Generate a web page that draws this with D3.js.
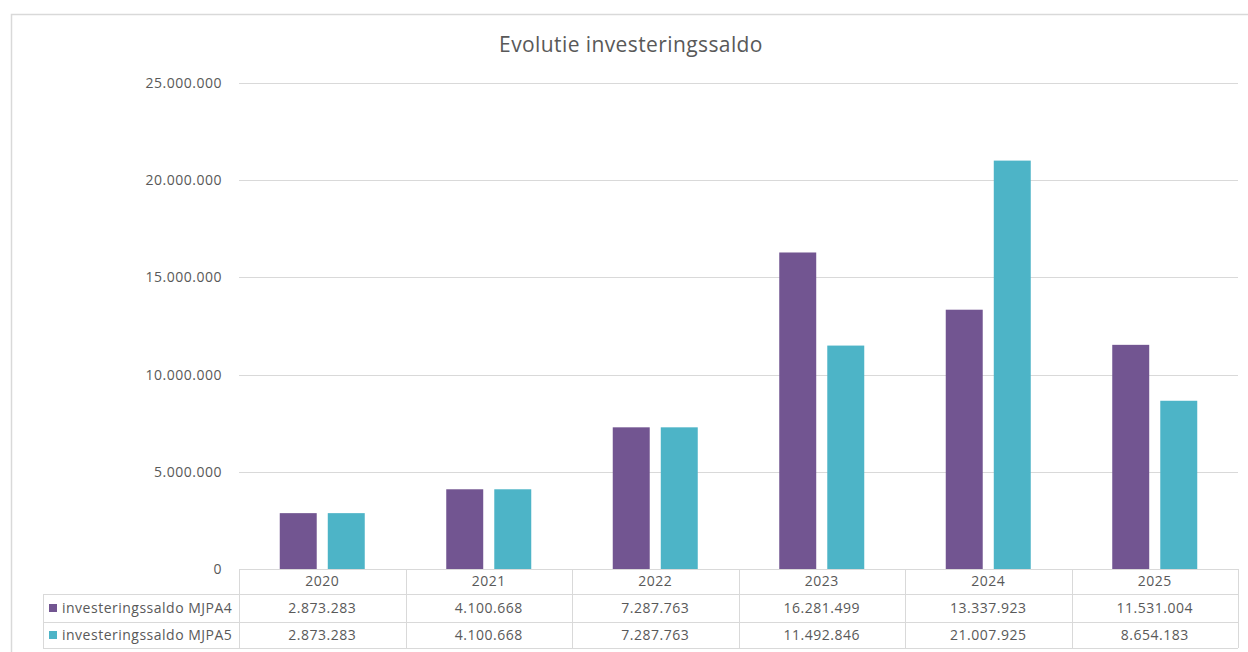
<!DOCTYPE html>
<html>
<head>
<meta charset="utf-8">
<script src="https://cdn.jsdelivr.net/npm/d3@7"></script>
<style>
  html, body { margin: 0; padding: 0; background: #fff; }
  svg { display: block; font-family: "Open Sans", "Noto Sans", sans-serif; }
</style>
</head>
<body>
<svg id="chart" width="1248" height="652"></svg>
<script>
const title = "Evolutie investeringssaldo";
const categories = ["2020", "2021", "2022", "2023", "2024", "2025"];
const seriesNames = ["investeringssaldo MJPA4", "investeringssaldo MJPA5"];
const mjpa4 = [2873283, 4100668, 7287763, 16281499, 13337923, 11531004];
const mjpa5 = [2873283, 4100668, 7287763, 11492846, 21007925, 8654183];
const seriesColors = ["#725591", "#4db4c7"];
const yTicks = [0, 5000000, 10000000, 15000000, 20000000, 25000000];

(function () {
const series = [mjpa4, mjpa5];
const svg = d3.select("#chart");
const gridColor = "#d9d9d9";
const textColor = "#595959";
const fs = 14, ls = 0.5;

const plotLeft = 239, plotRight = 1238, plotTop = 83, plotBottom = 569;
const legendLeft = 43;
const rowLines = [569, 594, 622, 648];

svg.append("rect").attr("x", 11.5).attr("y", 14.5).attr("width", 1300).attr("height", 700)
  .attr("fill", "none").attr("stroke", gridColor).attr("stroke-width", 1.5);

const fmt = v => d3.format(",")(v).replace(/,/g, ".");

const x = d3.scaleBand().domain(categories).range([plotLeft, plotRight]).paddingInner(0).paddingOuter(0);
const y = d3.scaleLinear().domain([0, 25000000]).range([plotBottom, plotTop]);
const xSub = d3.scaleBand().domain(d3.range(series.length))
  .range([0, 85]).paddingInner(0.23);
const subOffset = (x.bandwidth() - 85) / 2;

svg.append("text").attr("x", 631).attr("y", 52).attr("text-anchor", "middle")
  .attr("font-size", 21).attr("letter-spacing", 0.4).attr("fill", textColor).text(title);

svg.append("g").selectAll("line").data(yTicks.filter(d => d > 0)).join("line")
  .attr("x1", plotLeft).attr("x2", plotRight)
  .attr("y1", d => Math.round(y(d)) + 0.5).attr("y2", d => Math.round(y(d)) + 0.5)
  .attr("stroke", gridColor).attr("stroke-width", 1);

const yAxis = d3.axisLeft(y).tickValues(yTicks).tickFormat(fmt).tickSize(0).tickPadding(0);
const gy = svg.append("g").attr("transform", `translate(222,0)`).call(yAxis);
gy.select(".domain").remove();
gy.selectAll("text").attr("font-size", fs).attr("letter-spacing", ls).attr("fill", textColor)
  .attr("font-family", "'Open Sans', sans-serif").attr("dy", "0.32em");

series.forEach((vals, si) => {
  svg.append("g").selectAll("rect").data(vals).join("rect")
    .attr("x", (d, i) => x(categories[i]) + subOffset + xSub(si))
    .attr("width", xSub.bandwidth())
    .attr("y", d => y(d))
    .attr("height", d => y(0) - y(d))
    .attr("fill", seriesColors[si]);
});

const tg = svg.append("g");
tg.append("line").attr("x1", plotLeft).attr("x2", plotRight).attr("y1", rowLines[0] + 0.5).attr("y2", rowLines[0] + 0.5)
  .attr("stroke", gridColor);
rowLines.slice(1).forEach(yy => {
  tg.append("line").attr("x1", legendLeft).attr("x2", plotRight).attr("y1", yy + 0.5).attr("y2", yy + 0.5)
    .attr("stroke", gridColor);
});
const vx = categories.map(c => x(c)).concat([plotRight]);
vx.forEach(xx => {
  tg.append("line").attr("x1", Math.round(xx) + 0.5).attr("x2", Math.round(xx) + 0.5)
    .attr("y1", rowLines[0]).attr("y2", rowLines[3]).attr("stroke", gridColor);
});
tg.append("line").attr("x1", legendLeft + 0.5).attr("x2", legendLeft + 0.5)
  .attr("y1", rowLines[1]).attr("y2", rowLines[3]).attr("stroke", gridColor);

tg.selectAll("text.hdr").data(categories).join("text").attr("class", "hdr")
  .attr("x", d => x(d) + x.bandwidth() / 2)
  .attr("y", (rowLines[0] + rowLines[1]) / 2).attr("dy", "0.35em")
  .attr("text-anchor", "middle").attr("font-size", fs).attr("letter-spacing", ls)
  .attr("fill", textColor).text(d => d);

series.forEach((vals, si) => {
  const cy = (rowLines[si + 1] + rowLines[si + 2]) / 2;
  tg.append("rect").attr("x", 49).attr("y", cy - 4).attr("width", 8).attr("height", 8)
    .attr("fill", seriesColors[si]);
  tg.append("text").attr("x", 62).attr("y", cy).attr("dy", "0.35em")
    .attr("font-size", fs).attr("letter-spacing", ls).attr("fill", textColor).text(seriesNames[si]);
  tg.append("g").selectAll("text").data(vals).join("text")
    .attr("x", (d, i) => x(categories[i]) + x.bandwidth() / 2)
    .attr("y", cy).attr("dy", "0.35em")
    .attr("text-anchor", "middle").attr("font-size", fs).attr("letter-spacing", ls)
    .attr("fill", textColor)
    .text(d => fmt(d));
});
})();
</script>
</body>
</html>
